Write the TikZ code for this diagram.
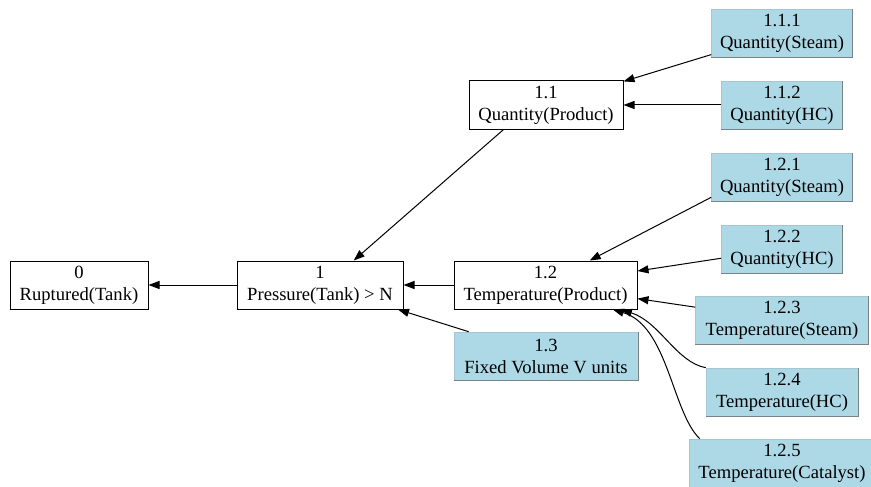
\documentclass[tikz,border=0pt]{standalone}
\usepackage{fontspec}
\setmainfont{Liberation Serif}
\usetikzlibrary{arrows.meta}
\definecolor{leafblue}{RGB}{173,216,230}
\definecolor{leafedge}{RGB}{120,130,135}
\tikzset{
  box/.style={rectangle, draw=black, line width=1pt, fill=white, inner sep=0pt,
    minimum height=48pt, align=center, font=\fontsize{18.6}{22}\selectfont},
  leaf/.style={rectangle, draw=leafblue!80!gray, line width=0.6pt, fill=leafblue, inner sep=0pt,
    minimum height=48pt, align=center, font=\fontsize{18.6}{22}\selectfont},
  link/.style={draw=black, line width=1pt, -{Triangle[length=11pt,width=8pt]}},
}
\begin{document}
\begin{tikzpicture}[x=1pt,y=-1pt]
\useasboundingbox (0,0) rectangle (871,487);

% causal chain
\node[box, minimum width=138pt] (n0) at (79,285) {0\\Ruptured(Tank)};
\node[box, minimum width=166pt] (n1) at (320,285) {1\\Pressure(Tank) > N};
\node[box, minimum width=154pt] (n11) at (546,105) {1.1\\Quantity(Product)};
\node[box, minimum width=183pt] (n12) at (545.5,285) {1.2\\Temperature(Product)};

% leaf factors
\node[leaf, minimum width=184pt] (n13) at (546,356) {1.3\\Fixed Volume V units};
\node[leaf, minimum width=141pt] (n111) at (782,33) {1.1.1\\Quantity(Steam)};
\node[leaf, minimum width=121pt] (n112) at (782,105) {1.1.2\\Quantity(HC)};
\node[leaf, minimum width=141pt] (n121) at (782,177) {1.2.1\\Quantity(Steam)};
\node[leaf, minimum width=121pt] (n122) at (782,249) {1.2.2\\Quantity(HC)};
\node[leaf, minimum width=173pt] (n123) at (782,320) {1.2.3\\Temperature(Steam)};
\node[leaf, minimum width=152pt] (n124) at (782,392) {1.2.4\\Temperature(HC)};
\node[leaf, minimum width=186pt] (n125) at (782,463) {1.2.5\\Temperature(Catalyst)};

% darker lower and right edges of the leaf boxes
\foreach \n in {n13,n111,n112,n121,n122,n123,n124,n125}
  \draw[leafedge, line width=0.8pt] (\n.south west) -- (\n.south east) -- (\n.north east);

% connectors
\draw[link] (n1) -- (n0);
\draw[link] (n11.210.3) -- (n1.36.9);
\draw[link] (n12) -- (n1);
\draw[link] (n13) -- (n1);
\draw[link] (n111) -- (n11);
\draw[link] (n112) -- (n11);
\draw[link] (n121.196.7) -- (n12.29.5);
\draw[link] (n122) -- (n12);
\draw[link] (n123) -- (n12);
\draw[link] (n124.north west) .. controls (676,362) and (660,322) .. (n12.-18.6);
\draw[link] ([xshift=11pt]n125.north west) .. controls (672,412) and (668,326) .. (n12.-20.5);
\end{tikzpicture}
\end{document}
